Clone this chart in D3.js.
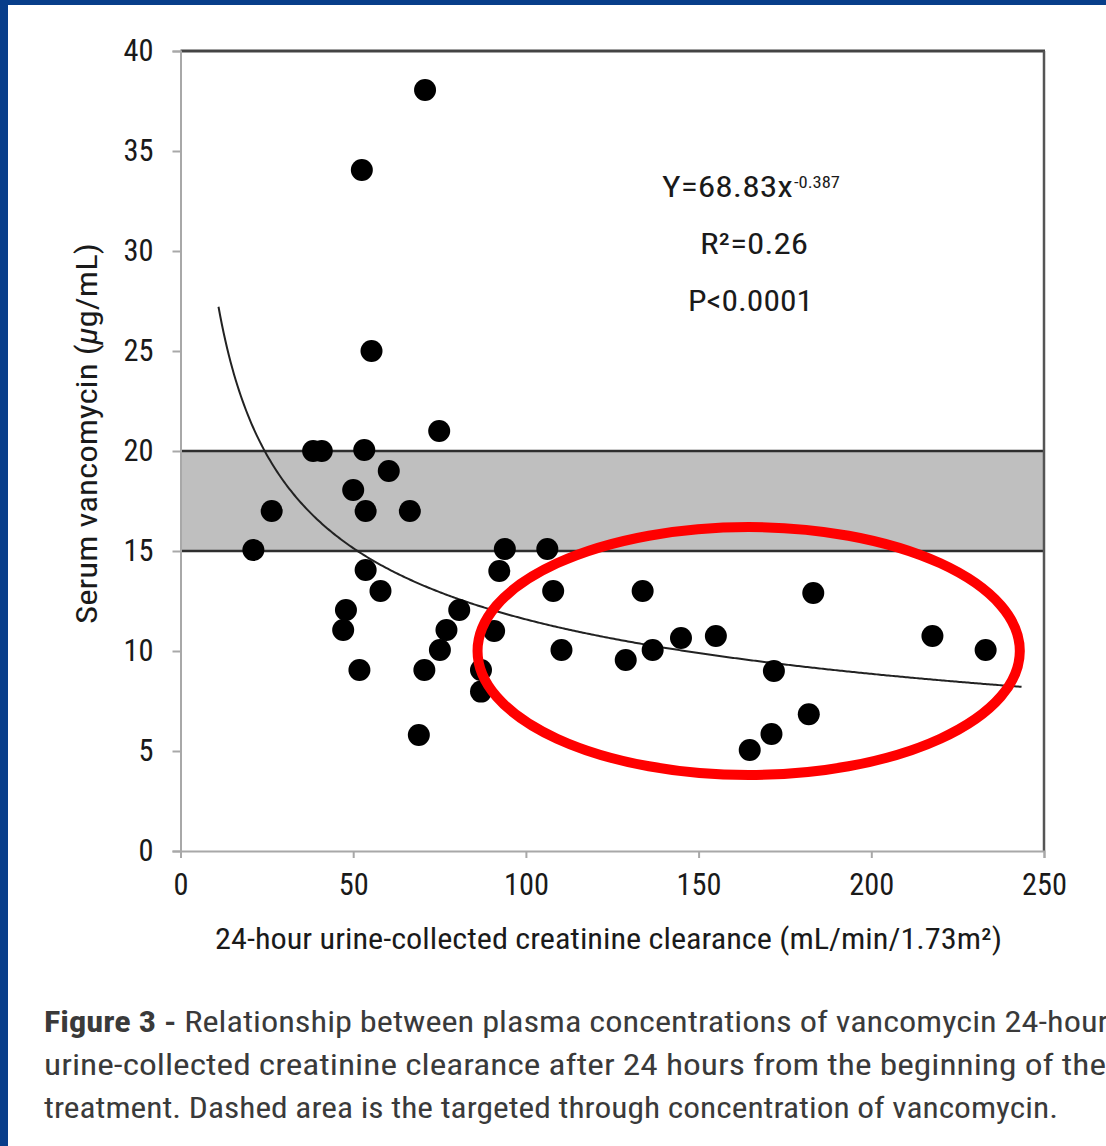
<!DOCTYPE html>
<html><head><meta charset="utf-8">
<script src="https://cdn.jsdelivr.net/npm/d3@7"></script>
<style>
html,body{margin:0;padding:0;background:#fff;}
svg{display:block;}
</style></head>
<body>
<script>
// ---- data ----
const clearance = [21.1, 26.4, 38.4, 40.9, 52.5, 55.3, 53.2, 50.0, 53.6, 60.3, 66.4, 74.9, 70.8,
  53.6, 57.9, 47.9, 47.1, 51.8, 69.0, 70.6, 75.1, 77.0, 80.7, 87.0, 87.0, 90.8, 92.3, 93.9,
  106.2, 107.9, 110.3, 128.9, 133.8, 136.7, 144.9, 155.0, 164.8, 171.1, 171.8, 181.9, 183.2, 217.7, 233.1];
const vancomycin = [15.05, 17.0, 20.0, 20.0, 34.05, 25.0, 20.05, 18.05, 17.0, 19.0, 17.0, 21.0, 38.05,
  14.05, 13.0, 12.05, 11.05, 9.05, 5.8, 9.05, 10.05, 11.05, 12.05, 9.05, 7.97, 11.0, 14.0, 15.1,
  15.1, 13.0, 10.05, 9.55, 13.0, 10.05, 10.65, 10.75, 5.05, 5.85, 9.0, 6.84, 12.9, 10.75, 10.05];
const xTicks = [0, 50, 100, 150, 200, 250];
const yTicks = [0, 5, 10, 15, 20, 25, 30, 35, 40];
const targetBand = [15, 20];
const fitCoef = 68.83, fitExp = -0.387;
const fitRange = [11, 243.5];
const annotationEllipse = {cx: 164.5, cy: 10, rx: 78.5, ry: 6.2};
const xLabel = "24-hour urine-collected creatinine clearance (mL/min/1.73m\u00B2)";
const yLabelMain = "Serum vancomycin (";
const yLabelMu = "\u03BC";
const yLabelEnd = "g/mL)";
const statLines = ["Y=68.83x", "-0.387", "R\u00B2=0.26", "P<0.0001"];
const captionLines = [
  ["Figure 3 -", " Relationship between plasma concentrations of vancomycin 24-hour"],
  ["", "urine-collected creatinine clearance after 24 hours from the beginning of the"],
  ["", "treatment. Dashed area is the targeted through concentration of vancomycin."]
];

// ---- layout ----
const W = 1106, H = 1146;
const font = "'Liberation Sans Narrow','Arial Narrow','Roboto Condensed',Roboto,sans-serif";
const svg = d3.select("body").append("svg").attr("width", W).attr("height", H);
svg.append("rect").attr("width", W).attr("height", H).attr("fill", "#fff");
// blue frame
svg.append("rect").attr("x", 0).attr("y", 0).attr("width", W).attr("height", 5).attr("fill", "#083e8a");
svg.append("rect").attr("x", 0).attr("y", 0).attr("width", 8).attr("height", H).attr("fill", "#083e8a");

const x = d3.scaleLinear().domain([0, 250]).range([180.5, 1044]);
const y = d3.scaleLinear().domain([0, 40]).range([851, 51]);

// band
svg.append("rect").attr("x", x(0)).attr("y", y(targetBand[1])).attr("width", x(250) - x(0))
  .attr("height", y(targetBand[0]) - y(targetBand[1])).attr("fill", "#bfbfbf");
targetBand.forEach(v => svg.append("line").attr("x1", x(0)).attr("x2", x(250))
  .attr("y1", y(v)).attr("y2", y(v)).attr("stroke", "#2e2e2e").attr("stroke-width", 2.5));

// frame top & right
svg.append("line").attr("x1", x(0)).attr("x2", x(250) + 1).attr("y1", y(40)).attr("y2", y(40))
  .attr("stroke", "#444").attr("stroke-width", 3);
svg.append("line").attr("x1", x(250)).attr("x2", x(250)).attr("y1", y(40)).attr("y2", y(0))
  .attr("stroke", "#555").attr("stroke-width", 2.5);

// axes
const xAxis = svg.append("g").attr("transform", `translate(0,${y(0)})`)
  .call(d3.axisBottom(x).tickValues(xTicks).tickSize(7).tickPadding(15).tickFormat(d3.format("d")));
const yAxis = svg.append("g").attr("transform", `translate(${x(0)},0)`)
  .call(d3.axisLeft(y).tickValues(yTicks).tickSize(8).tickPadding(19).tickFormat(d3.format("d")));
[xAxis, yAxis].forEach(g => {
  g.select(".domain").attr("stroke", "#a8a8a8").attr("stroke-width", 2);
  g.selectAll(".tick line").attr("stroke", "#a8a8a8").attr("stroke-width", 2);
  g.selectAll(".tick text").attr("fill", "#1a1a1a").style("font-family", font).style("font-size", "31px")
    .attr("textLength", d => String(d).length * 15).attr("lengthAdjust", "spacingAndGlyphs");
});
xAxis.selectAll(".tick text").attr("dy", "0.71em");

// fit curve
const curveX = d3.range(fitRange[0], fitRange[1], 0.5).concat([fitRange[1]]);
svg.append("path").datum(curveX)
  .attr("d", d3.line().x(d => x(d)).y(d => y(fitCoef * Math.pow(d, fitExp))))
  .attr("fill", "none").attr("stroke", "#222").attr("stroke-width", 2);

// points
svg.append("g").selectAll("circle").data(clearance.map((c, i) => [c, vancomycin[i]]))
  .join("circle").attr("cx", d => x(d[0])).attr("cy", d => y(d[1])).attr("r", 11).attr("fill", "#000");

// red ellipse annotation
svg.append("ellipse").attr("cx", x(annotationEllipse.cx)).attr("cy", y(annotationEllipse.cy))
  .attr("rx", x(annotationEllipse.rx) - x(0)).attr("ry", y(0) - y(annotationEllipse.ry))
  .attr("fill", "none").attr("stroke", "#ff0000").attr("stroke-width", 10);

// statistics text
const stat = (txt, xx, yy, len, size) => svg.append("text").attr("x", xx).attr("y", yy).attr("fill", "#1a1a1a")
  .attr("textLength", len).attr("lengthAdjust", "spacingAndGlyphs")
  .style("font-family", font).style("font-size", size + "px").text(txt);
stat(statLines[0], 662, 197, 131, 29);
stat(statLines[1], 794, 188, 46, 16);
stat(statLines[2], 700, 254, 108, 29);
stat(statLines[3], 688, 311, 125, 29);

// axis labels
svg.append("text").attr("x", 215).attr("y", 949).attr("fill", "#1a1a1a")
  .attr("textLength", 787).attr("lengthAdjust", "spacingAndGlyphs")
  .style("font-family", font).style("font-size", "29px").text(xLabel);
const yl = svg.append("text").attr("transform", "translate(97,624) rotate(-90)").attr("fill", "#1a1a1a")
  .attr("textLength", 381).attr("lengthAdjust", "spacingAndGlyphs")
  .style("font-family", font).style("font-size", "29px");
yl.append("tspan").text(yLabelMain);
yl.append("tspan").style("font-style", "italic").text(yLabelMu);
yl.append("tspan").text(yLabelEnd);

// caption
const capLens = [1064, 1062, 1014];
const capBase = [1032, 1075, 1118];
captionLines.forEach((ln, i) => {
  const t = svg.append("text").attr("x", 44).attr("y", capBase[i]).attr("fill", "#3a3a3a")
    .attr("textLength", capLens[i]).attr("lengthAdjust", "spacingAndGlyphs")
    .style("font-family", font).style("font-size", "29px");
  if (ln[0]) t.append("tspan").style("font-weight", "bold").text(ln[0]);
  t.append("tspan").text(ln[1]);
});
</script>
</body></html>
